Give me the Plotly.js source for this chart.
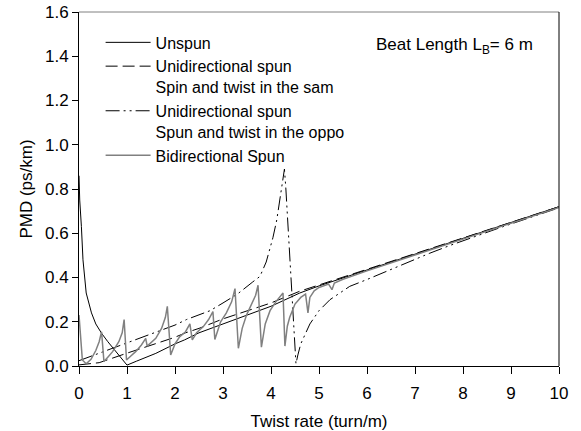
<!DOCTYPE html>
<html>
<head>
<meta charset="utf-8">
<script src="https://cdn.plot.ly/plotly-3.0.1.min.js"></script>
<style>html,body{margin:0;padding:0;background:#fff;}#chart{width:581px;height:431px;}</style>
</head>
<body>
<div id="chart"></div>
<script>
// ---- Data ----
const unspunX = [0, 0.015, 0.05, 0.083, 0.15, 0.26, 0.35, 0.47, 0.6, 0.68, 0.8, 0.9, 1.0, 1.2, 1.6, 2.0, 2.2, 2.5, 3.0, 3.5, 4.0, 4.6, 5, 6, 7, 8, 9, 10];
const unspunY = [0.86, 0.75, 0.63, 0.48, 0.33, 0.24, 0.19, 0.148, 0.11, 0.088, 0.055, 0.03, 0.004, 0.022, 0.057, 0.1, 0.118, 0.15, 0.19, 0.23, 0.27, 0.33, 0.362, 0.434, 0.505, 0.576, 0.648, 0.72];

const sameX = [0, 0.42, 1, 1.5, 2, 2.22, 2.5, 3, 3.5, 4, 4.6, 5, 6, 7, 8, 9, 10];
const sameY = [0.005, 0.015, 0.058, 0.095, 0.13, 0.15, 0.17, 0.213, 0.25, 0.285, 0.338, 0.367, 0.437, 0.508, 0.579, 0.65, 0.72];

const oppoX = [0, 0.5, 1, 1.5, 2, 2.24, 2.73, 3, 3.3, 3.62, 3.77, 3.9, 4.04, 4.12, 4.18, 4.24, 4.28, 4.31, 4.36, 4.42, 4.47, 4.52, 4.56, 4.62, 4.81, 5.0, 5.23, 5.64, 5.99, 6.69, 7.31, 7.73, 8.77, 10];
const oppoY = [0.024, 0.065, 0.104, 0.145, 0.185, 0.21, 0.25, 0.285, 0.325, 0.38, 0.405, 0.47, 0.58, 0.66, 0.75, 0.84, 0.89, 0.8, 0.6, 0.38, 0.18, 0.01, 0.05, 0.1, 0.19, 0.25, 0.3, 0.36, 0.39, 0.455, 0.51, 0.545, 0.625, 0.715];

const biX = [0, 0.07, 0.15, 0.25, 0.35, 0.42, 0.47, 0.52, 0.6, 0.7, 0.83, 0.9, 0.94, 0.99, 1.08, 1.18, 1.3, 1.39, 1.42, 1.5, 1.6, 1.72, 1.8, 1.84, 1.91, 2.0, 2.1, 2.22, 2.31, 2.36, 2.45, 2.59, 2.7, 2.79, 2.83, 2.95, 3.07, 3.18, 3.25, 3.32, 3.4, 3.49, 3.6, 3.68, 3.73, 3.8, 3.88, 3.98, 4.1, 4.17, 4.25, 4.29, 4.34, 4.39, 4.5, 4.62, 4.72, 4.77, 4.81, 4.9, 5.0, 5.2, 5.27, 5.32, 5.5, 6, 7, 8, 9, 10];
const biY = [0.23, 0.027, 0.01, 0.03, 0.07, 0.11, 0.155, 0.02, 0.04, 0.065, 0.11, 0.15, 0.21, 0.027, 0.045, 0.065, 0.095, 0.125, 0.09, 0.105, 0.125, 0.17, 0.22, 0.27, 0.05, 0.1, 0.133, 0.155, 0.19, 0.118, 0.15, 0.178, 0.21, 0.246, 0.12, 0.2, 0.24, 0.29, 0.35, 0.08, 0.17, 0.23, 0.28, 0.32, 0.365, 0.085, 0.19, 0.25, 0.29, 0.31, 0.33, 0.09, 0.18, 0.22, 0.28, 0.31, 0.325, 0.24, 0.31, 0.34, 0.355, 0.37, 0.345, 0.375, 0.392, 0.43, 0.502, 0.573, 0.645, 0.717];

const names = ["Unspun", "Unidirectional spun<br>Spin and twist in the sam", "Unidirectional spun<br>Spun and twist in the oppo", "Bidirectional Spun"];
const xTicks = [0, 1, 2, 3, 4, 5, 6, 7, 8, 9, 10];
const yTicks = [0, 0.2, 0.4, 0.6, 0.8, 1.0, 1.2, 1.4, 1.6];

const FONT = "Liberation Sans, Arial, sans-serif";

const traces = [
  {x: unspunX, y: unspunY, name: names[0], mode: "lines", line: {color: "#000", width: 1}},
  {x: sameX, y: sameY, name: names[1], mode: "lines", line: {color: "#000", width: 1, dash: "12px,5px"}},
  {x: oppoX, y: oppoY, name: names[2], mode: "lines", line: {color: "#000", width: 1, dash: "14px,4px,2px,4px,2px,4px"}},
  {x: biX, y: biY, name: names[3], mode: "lines", line: {color: "#808080", width: 1.5}}
];

const layout = {
  width: 581, height: 431,
  margin: {l: 79, r: 22, t: 12, b: 65},
  paper_bgcolor: "#fff", plot_bgcolor: "#fff",
  font: {family: FONT, size: 17, color: "#000"},
  showlegend: true,
  legend: {x: 0.045, y: 0.962, xanchor: "left", yanchor: "top", bgcolor: "rgba(0,0,0,0)",
           font: {family: FONT, size: 16, color: "#000"}, valign: "top", tracegroupgap: 0, itemwidth: 45},
  xaxis: {range: [0, 10], tickvals: xTicks, ticktext: xTicks.map(String), showgrid: false, zeroline: false,
          showline: true, linecolor: "#000", linewidth: 1, ticks: "outside", ticklen: 7, tickcolor: "#000",
          ticklabelstandoff: 5, tickfont: {size: 17},
          title: {text: "Twist rate (turn/m)", font: {size: 17}, standoff: 14}},
  yaxis: {range: [0, 1.6], tickvals: yTicks, ticktext: yTicks.map(v => v.toFixed(1)), showgrid: false, zeroline: false,
          showline: true, linecolor: "#000", linewidth: 1, ticks: "outside", ticklen: 6, tickcolor: "#000",
          tickfont: {size: 17},
          title: {text: "PMD (ps/km)", font: {size: 17}, standoff: 8}},
  shapes: [
    {type: "line", xref: "paper", yref: "paper", x0: 0, x1: 1, y0: 1, y1: 1, line: {color: "#808080", width: 1}},
    {type: "line", xref: "paper", yref: "paper", x0: 1, x1: 1, y0: 0, y1: 1, line: {color: "#000", width: 1}}
  ],
  annotations: [
    {xref: "paper", yref: "paper", x: 0.95, y: 0.905, xanchor: "right", yanchor: "middle", showarrow: false,
     text: "Beat Length L<sub>B</sub>= 6 m", font: {family: FONT, size: 17, color: "#000"}}
  ]
};

Plotly.newPlot("chart", traces, layout, {displayModeBar: false, staticPlot: true});
</script>
</body>
</html>
